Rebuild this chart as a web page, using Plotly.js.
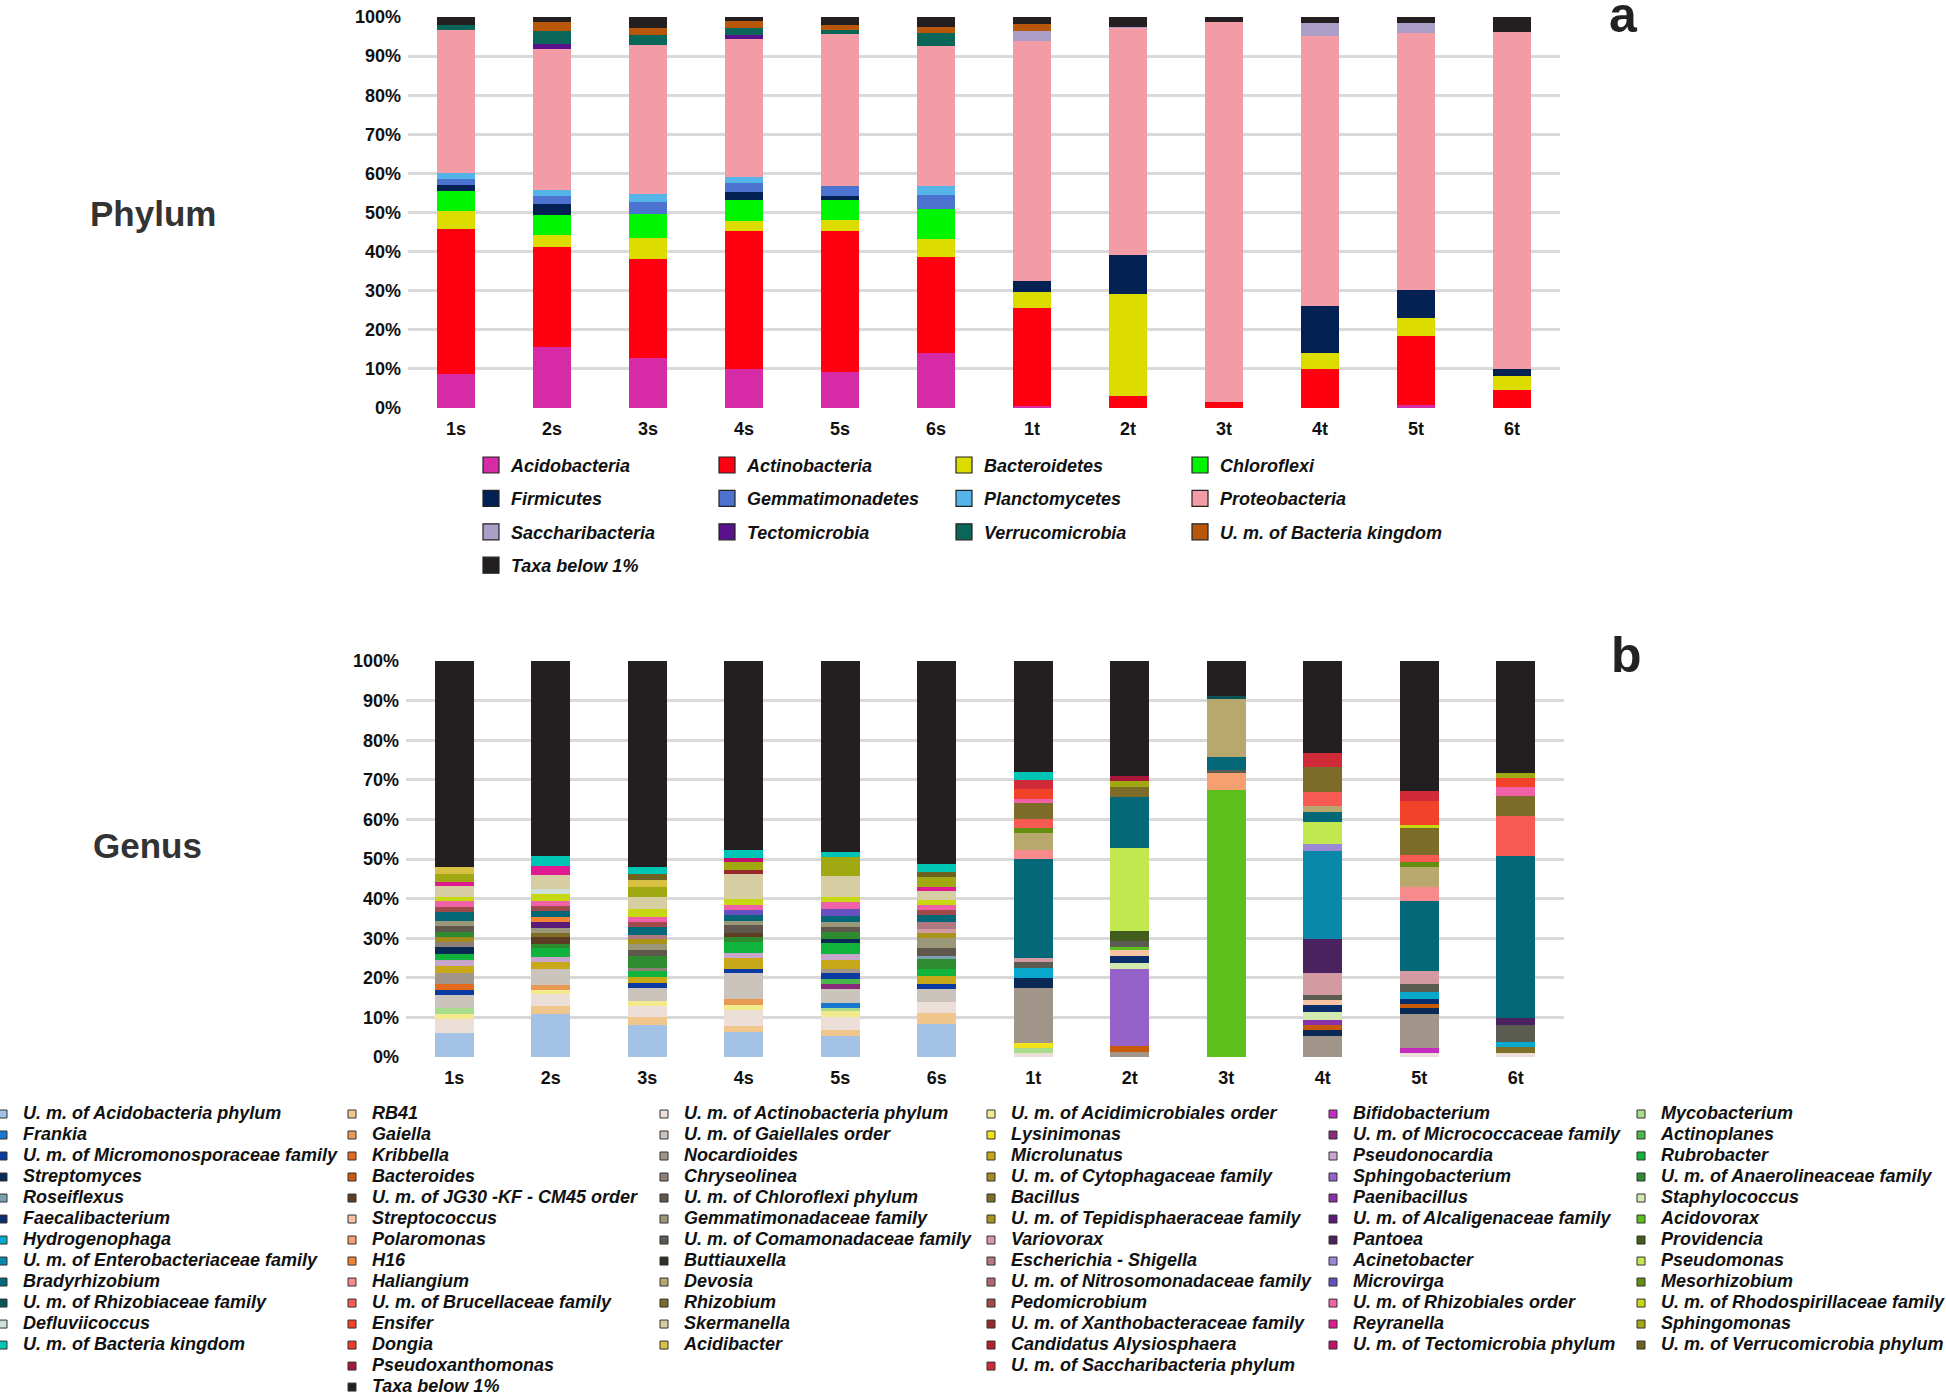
<!DOCTYPE html>
<html>
<head>
<meta charset="utf-8">
<script src="https://cdn.plot.ly/plotly-3.0.1.min.js"></script>
<style>
html,body{margin:0;padding:0;overflow:hidden;background:#fff;width:1946px;height:1397px;}
#wrap{position:relative;width:1946px;height:1397px;overflow:hidden;background:#fff;}
#chart{position:absolute;left:-24px;top:0;width:2030px;height:1420px;}
</style>
</head>
<body>
<div id="wrap"><div id="chart"></div></div>
<script>
// ---------------- DATA ----------------
const samples = ['1s','2s','3s','4s','5s','6s','1t','2t','3t','4t','5t','6t'];

// Panel a: phylum (% relative abundance), stacked bottom -> top
const phylumNames = ['Acidobacteria','Actinobacteria','Bacteroidetes','Chloroflexi','Firmicutes','Gemmatimonadetes','Planctomycetes','Proteobacteria','Saccharibacteria','Tectomicrobia','Verrucomicrobia','U. m. of Bacteria kingdom','Taxa below 1%'];
const phylumColors = ['#d62aa6','#fe0010','#dcdc00','#00f500','#032152','#4d73d1','#55b4e8','#f49ca6','#ab9fc8','#5b118c','#0b665a','#b8560a','#231f20'];
const pAcidobacteria    = [8.6, 15.7, 12.7, 10.0, 9.1, 14.1, 0.5, 0, 0, 0, 0.7, 0];
const pActinobacteria   = [37.3, 25.6, 25.4, 35.2, 36.1, 24.6, 25.2, 3.1, 1.5, 10.1, 17.6, 4.6];
const pBacteroidetes    = [4.5, 3.0, 5.3, 2.5, 2.9, 4.5, 3.9, 26.1, 0, 3.9, 4.8, 3.6];
const pChloroflexi      = [5.0, 5.0, 6.2, 5.5, 5.1, 7.7, 0, 0, 0, 0, 0, 0];
const pFirmicutes       = [1.6, 2.8, 0, 2.0, 1.0, 0, 2.8, 10.0, 0, 12.2, 7.1, 1.9];
const pGemmatimonadetes = [1.5, 2.1, 3.0, 2.3, 2.5, 3.5, 0, 0, 0, 0, 0, 0];
const pPlanctomycetes   = [1.5, 1.5, 2.2, 1.5, 0, 2.3, 0, 0, 0, 0, 0, 0];
const pProteobacteria   = [36.7, 36.2, 38.1, 35.4, 39.0, 35.9, 61.4, 58.0, 97.2, 68.9, 65.8, 86.0];
const pSaccharibacteria = [0, 0, 0, 0, 0, 0, 2.5, 0.3, 0, 3.4, 2.5, 0];
const pTectomicrobia    = [0, 1.2, 0, 1.0, 0, 0, 0, 0, 0, 0, 0, 0];
const pVerrucomicrobia  = [1.2, 3.2, 2.6, 1.8, 1.0, 3.4, 0, 0, 0, 0, 0, 0];
const pBacteriaKingdom  = [0, 2.5, 1.7, 1.9, 1.2, 1.5, 2.0, 0, 0, 0, 0, 0];
const pTaxaBelow        = [2.1, 1.2, 2.8, 0.9, 2.1, 2.5, 1.7, 2.5, 1.3, 1.5, 1.5, 3.9];
const phylumSeries = [pAcidobacteria,pActinobacteria,pBacteroidetes,pChloroflexi,pFirmicutes,pGemmatimonadetes,pPlanctomycetes,pProteobacteria,pSaccharibacteria,pTectomicrobia,pVerrucomicrobia,pBacteriaKingdom,pTaxaBelow];

// Panel b: genus (% relative abundance), legend order (row-major)
const genusNames = [
 'U. m. of Acidobacteria phylum','RB41','U. m. of Actinobacteria phylum','U. m. of Acidimicrobiales order','Bifidobacterium','Mycobacterium',
 'Frankia','Gaiella','U. m. of Gaiellales order','Lysinimonas','U. m. of Micrococcaceae family','Actinoplanes',
 'U. m. of Micromonosporaceae family','Kribbella','Nocardioides','Microlunatus','Pseudonocardia','Rubrobacter',
 'Streptomyces','Bacteroides','Chryseolinea','U. m. of Cytophagaceae family','Sphingobacterium','U. m. of Anaerolineaceae family',
 'Roseiflexus','U. m. of JG30 -KF - CM45 order','U. m. of Chloroflexi phylum','Bacillus','Paenibacillus','Staphylococcus',
 'Faecalibacterium','Streptococcus','Gemmatimonadaceae family','U. m. of Tepidisphaeraceae family','U. m. of Alcaligenaceae family','Acidovorax',
 'Hydrogenophaga','Polaromonas','U. m. of Comamonadaceae family','Variovorax','Pantoea','Providencia',
 'U. m. of Enterobacteriaceae family','H16','Buttiauxella','Escherichia - Shigella','Acinetobacter','Pseudomonas',
 'Bradyrhizobium','Haliangium','Devosia','U. m. of Nitrosomonadaceae family','Microvirga','Mesorhizobium',
 'U. m. of Rhizobiaceae family','U. m. of Brucellaceae family','Rhizobium','Pedomicrobium','U. m. of Rhizobiales order','U. m. of Rhodospirillaceae family',
 'Defluviicoccus','Ensifer','Skermanella','U. m. of Xanthobacteraceae family','Reyranella','Sphingomonas',
 'U. m. of Bacteria kingdom','Dongia','Acidibacter','Candidatus Alysiosphaera','U. m. of Tectomicrobia phylum','U. m. of Verrucomicrobia phylum',
 'Pseudoxanthomonas','U. m. of Saccharibacteria phylum','Taxa below 1%'
];
const genusColors = [
 '#a3c2e6','#f0c68c','#ebdfd8','#f3ea8e','#c42cc0','#a8dc8a',
 '#1878d0','#e89a52','#cbc4bc','#f2e21c','#8a2a7a','#4ab84a',
 '#0a3aa2','#e46a1e','#a19589','#c8a818','#c8a6cc','#10b33c',
 '#0a2a56','#c85a0a','#8c8078','#a28a1e','#9462c8','#2e8b30',
 '#7aa2ae','#5c3c22','#5f574b','#7f6e26','#8a30a8','#d2eab0',
 '#0a2e6c','#f8c4a4','#9a9878','#a89418','#5a1c78','#5cbf1c',
 '#08a8cc','#f6a070','#5a5c52','#d49aa2','#4a2260','#425c1e',
 '#0a88aa','#f08232','#2e2e28','#b07880','#9a88d4','#c2e850',
 '#046878','#f78a8c','#b8a86e','#b06870','#6850c0','#648e12',
 '#0a5458','#f75a52','#7d6b2a','#a04a4a','#f062a8','#c6d812',
 '#cfe0d8','#f2422a','#d6cea2','#962a2a','#e01a90','#a0a912',
 '#00c4b4','#f03a2a','#d8c044','#b42030','#c0106a','#6e6222',
 '#a8183a','#d02a38','#231f20'
];
const gAcidobacteriaPhylum = [6.0,10.9,8.1,6.2,5.4,8.3,0,0,0,0,0,0];
const gRB41                = [0,2.0,2.1,1.6,1.3,2.7,0,0,0,0,0,0];
const gActinobacteriaPhyl  = [3.7,3.0,2.8,4.0,3.5,2.8,0.9,0,0,0,0.9,0.9];
const gAcidimicrobiales    = [1.2,1.0,1.2,1.3,1.3,0,0,0,0,0,0,0];
const gBifidobacterium     = [0,0,0,0,0,0,0,0,0,0,1.3,0];
const gMycobacterium       = [1.4,0,0,0,0.8,0,1.4,0,0,0,0,0];
const gFrankia             = [0,0,0,0,1.4,0,0,0,0,0,0,0];
const gGaiella             = [0,1.3,0,1.5,0,0,0,0,0,0,0,0];
const gGaiellales          = [3.3,4.0,3.2,6.6,3.4,3.4,0,0,0,0,0,0];
const gLysinimonas         = [0,0,0,0,0,0,1.3,0,0,0,0,0];
const gMicrococcaceae      = [0,0,0,0,1.4,0,0,0,0,0,0,0];
const gActinoplanes        = [0,0,0,0,1.2,0,0,0,0,0,0,0];
const gMicromonosporaceae  = [1.3,0,1.3,1.1,1.4,1.3,0,0,0,0,0,0];
const gKribbella           = [1.5,0,0,0,0,0,0,0,0,0,0,0];
const gNocardioides        = [2.7,0,0,0,1.1,0,13.8,1.3,0,5.3,8.7,0];
const gMicrolunatus        = [2.0,1.7,1.5,2.7,2.3,1.9,0,0,0,0,0,0];
const gPseudonocardia      = [1.5,1.3,0,1.3,1.4,0,0,0,0,0,0,0];
const gRubrobacter         = [1.4,2.4,1.4,2.7,2.8,1.7,0,0,0,0,0,0];
const gStreptomyces        = [1.8,0,0,0,1.1,0,2.5,0,0,1.4,1.6,0];
const gBacteroides         = [0,0,0,0,0,0,0,1.5,0,1.3,0.9,0];
const gChryseolinea        = [1.2,0,1.0,0,0,0,0,0,0,0,0,0];
const gCytophagaceae       = [1.2,0,0,0,0,0,0,0,0,0,0,0];
const gSphingobacterium    = [0,0,0,0,0,0,0,19.5,0,0,0,0];
const gAnaerolineaceae     = [1.4,1.0,2.9,1.2,1.8,2.7,0,0,0,0,0,0];
const gRoseiflexus         = [0,0,0,0,0,0.8,0,0,0,0,0,0];
const gJG30                = [0,1.7,0,1.2,0,0,0,0,0,0,0,0];
const gChloroflexiPhylum   = [1.5,0,1.5,1.9,1.3,2.0,0,0,0,0,0,0];
const gBacillus            = [0,1.0,0,0,0,0,0,0,0,0,0,1.7];
const gPaenibacillus       = [0,0,0,0,0,0,0,0,0,1.4,0,0];
const gStaphylococcus      = [0,0,0,0,0,0,0,1.5,0,1.9,0,0];
const gFaecalibacterium    = [0,0,0,0,0,0,0,1.7,0,1.9,1.2,0];
const gStreptococcus       = [0,0,0,0,0,0,0,1.4,0,1.1,0,0];
const gGemmatimonadaceae   = [1.2,1.3,1.5,1.1,1.2,2.4,0,0,0,0,0,0];
const gTepidisphaeraceae   = [0,0,1.2,0,0,1.3,0,0,0,0,0,0];
const gAlcaligenaceae      = [0,1.6,0,0,0,0,0,0,0,0,0,0];
const gAcidovorax          = [0,0,0,0,0,0,0,1.0,67.3,0,0,0];
const gHydrogenophaga      = [0,0,0,0,0,0,2.7,0,0,0,1.9,1.3];
const gPolaromonas         = [0,0,0,0,0,0,0,0,4.4,0,0,0];
const gComamonadaceae      = [0,0,0,0,0,0,1.3,1.3,0.7,1.3,1.9,4.2];
const gVariovorax          = [0,0,0,0,0,1.1,1.2,0,0,5.7,3.3,0];
const gPantoea             = [0,0,0,0,0,0,0,0,0,8.4,0,1.7];
const gProvidencia         = [0,0,0,0,0,0,0,2.5,0,0,0,0];
const gEnterobacteriaceae  = [0,0,0,0,0,0,0,0,0,22.4,0,0];
const gH16                 = [0,1.2,0,0,0,0,0,0,0,0,0,0];
const gButtiauxella        = [0,0,0,0,0,0,0,0,0,0,0,0];
const gEscherichia         = [0,0,1.1,0,0,1.7,0,0,0,0,0,0];
const gAcinetobacter       = [0,0,0,0,0,0,0,0,0,1.8,0,0];
const gPseudomonas         = [0,0,0,0,0,0,0,21.1,0,5.4,0,0];
const gBradyrhizobium      = [2.3,1.5,2.1,1.5,1.5,1.7,25.0,12.9,3.4,2.6,17.8,41.0];
const gHaliangium          = [0,0,0,0,0,0,2.2,0,0,0,3.5,0];
const gDevosia             = [0,0,0,0,0,0,4.2,0,14.6,1.6,4.9,0];
const gNitrosomonadaceae   = [0,0,0,0,0,0,0,0,0,0,0,0];
const gMicrovirga          = [0,0,0,1.3,1.9,0,0,0,0,0,0,0];
const gMesorhizobium       = [0,0,0,0,0,0,1.3,0,0,0,1.3,0];
const gRhizobiaceae        = [0,0,0,0,0,0,0,0,0.7,0,0,0];
const gBrucellaceae        = [0,0,0,0,0,0,2.2,0,0,3.5,1.9,10.1];
const gRhizobium           = [0,0,0,0,0,0,4.1,2.6,0,6.3,6.7,5.1];
const gPedomicrobium       = [1.2,1.3,1.3,0,0,1.2,0,0,0,0,0,0];
const gRhizobiales         = [1.6,1.3,1.1,1.3,1.7,1.3,1.1,0,0,0,0,2.1];
const gRhodospirillaceae   = [1.1,1.7,2.0,1.5,1.1,1.3,0,0,0,0,0.8,0];
const gDefluviicoccus      = [0,1.3,0,0,0,0,0,0,0,0,0,0];
const gEnsifer             = [0,0,0,0,0,0,2.5,0,0,0,6.1,2.3];
const gSkermanella         = [2.8,3.4,3.2,6.1,5.3,2.2,0,0,0,0,0,0];
const gXanthobacteraceae   = [0,0,0,1.0,0,0,0,0,0,0,0,0];
const gReyranella          = [0.9,2.3,0,0,0,1.2,0,0,0,0,0,0];
const gSphingomonas        = [2.0,0,2.5,2.1,4.8,2.5,0,1.3,0,0,0,1.4];
const gBacteriaKingdom     = [0,2.5,1.7,2.1,1.3,1.9,1.9,0,0,0,0,0];
const gDongia              = [0,0,0,0,0,0,0,0,0,0,0,0];
const gAcidibacter         = [1.9,0,1.7,0,0,0,0,0,0,0,0,0];
const gCandidatus          = [0,0,0,0,0,0,0,0,0,0,0,0];
const gTectomicrobia       = [0,0,0,1.1,0,0,0,0,0,0,0,0];
const gVerrucomicrobia     = [0,0,1.5,0,0,1.3,0,0,0,0,0,0];
const gPseudoxanthomonas   = [0,0,0,0,0,0,0,1.4,0,0,0,0];
const gSaccharibacteria    = [0,0,0,0,0,0,2.3,0,0,3.5,2.4,0];
const gTaxaBelow           = [51.9,49.3,52.1,47.6,48.3,51.3,28.1,29.0,8.9,23.2,32.9,28.2];
const genusSeries = [
 gAcidobacteriaPhylum,gRB41,gActinobacteriaPhyl,gAcidimicrobiales,gBifidobacterium,gMycobacterium,
 gFrankia,gGaiella,gGaiellales,gLysinimonas,gMicrococcaceae,gActinoplanes,
 gMicromonosporaceae,gKribbella,gNocardioides,gMicrolunatus,gPseudonocardia,gRubrobacter,
 gStreptomyces,gBacteroides,gChryseolinea,gCytophagaceae,gSphingobacterium,gAnaerolineaceae,
 gRoseiflexus,gJG30,gChloroflexiPhylum,gBacillus,gPaenibacillus,gStaphylococcus,
 gFaecalibacterium,gStreptococcus,gGemmatimonadaceae,gTepidisphaeraceae,gAlcaligenaceae,gAcidovorax,
 gHydrogenophaga,gPolaromonas,gComamonadaceae,gVariovorax,gPantoea,gProvidencia,
 gEnterobacteriaceae,gH16,gButtiauxella,gEscherichia,gAcinetobacter,gPseudomonas,
 gBradyrhizobium,gHaliangium,gDevosia,gNitrosomonadaceae,gMicrovirga,gMesorhizobium,
 gRhizobiaceae,gBrucellaceae,gRhizobium,gPedomicrobium,gRhizobiales,gRhodospirillaceae,
 gDefluviicoccus,gEnsifer,gSkermanella,gXanthobacteraceae,gReyranella,gSphingomonas,
 gBacteriaKingdom,gDongia,gAcidibacter,gCandidatus,gTectomicrobia,gVerrucomicrobia,
 gPseudoxanthomonas,gSaccharibacteria,gTaxaBelow
];

// ---------------- LAYOUT HELPERS ----------------
const W = 2030, H = 1420, OX = 24;           // layout size, left offset of the drawing
const fx = px => (px + OX) / W;              // screen px -> container fraction
const fy = py => 1 - py / H;
const FONT = 'Liberation Sans, Arial, Helvetica, sans-serif';

// stacking order of genus bars: "U. m. of Bacteria kingdom" sits just under "Taxa below 1%"
const genusStack = [];
for (let i = 0; i < genusNames.length; i++) if (i !== 66 && i !== 74) genusStack.push(i);
genusStack.push(66, 74);
// legend column of each genus entry (legend is read row by row)
const genusLegendCol = genusNames.map((_, i) => i < 72 ? i % 6 : [1, 3, 1][i - 72]);

const traces = [];
phylumSeries.forEach((vals, i) => {
  traces.push({type:'bar', x: samples, y: vals, name: phylumNames[i], xaxis:'x', yaxis:'y',
    marker:{color: phylumColors[i], line:{width:0}}, showlegend:false, hoverinfo:'name+y'});
});
genusStack.forEach(i => {
  traces.push({type:'bar', x: samples, y: genusSeries[i], name: genusNames[i], xaxis:'x2', yaxis:'y2',
    marker:{color: genusColors[i], line:{width:0}}, showlegend:false, hoverinfo:'name+y'});
});
// legend entries
phylumNames.forEach((n, i) => {
  traces.push({type:'scatter', mode:'markers', x:[null], y:[null], xaxis:'x', yaxis:'y', name:n,
    legend: i % 4 === 0 ? 'legend' : 'legend' + (i % 4 + 1), legendgroup:'p' + i,
    marker:{symbol:'square', size:16, color: phylumColors[i], line:{color:'#222', width:1.2}},
    showlegend:true, hoverinfo:'skip'});
});
genusNames.forEach((n, i) => {
  traces.push({type:'scatter', mode:'markers', x:[null], y:[null], xaxis:'x2', yaxis:'y2',
    name:'<span style="font-size:18px">' + n + '</span>',
    legend:'legend' + (5 + genusLegendCol[i]),
    marker:{symbol:'square', size:8, color: genusColors[i], line:{color:'#333', width:1}},
    showlegend:true, hoverinfo:'skip'});
});

const tickFont = {family: FONT, size: 18, color:'#111', weight:'bold'};
const yAx = (dom, anchor) => ({domain: dom, anchor: anchor, range:[0,100], dtick:10, ticksuffix:'%',
  showgrid:true, gridcolor:'#d9d9d9', gridwidth:2.5, zeroline:false, showline:false, ticks:'',
  tickfont: tickFont, ticklabelstandoff: 6, fixedrange:true});
const xAx = (dom, anchor) => ({domain: dom, anchor: anchor, type:'category', categoryarray: samples,
  categoryorder:'array', showgrid:false, zeroline:false, showline:false, ticks:'',
  tickfont: tickFont, ticklabelstandoff: 8, fixedrange:true});

const layout = {
  width: W, height: H, margin:{l:0, r:0, t:0, b:0, autoexpand:false},
  paper_bgcolor:'#ffffff', plot_bgcolor:'rgba(0,0,0,0)',
  barmode:'stack', bargap:0.595,
  font:{family: FONT, color:'#111'},
  xaxis:  xAx([fx(408), fx(1560)], 'y'),
  yaxis:  yAx([fy(408), fy(17)], 'x'),
  xaxis2: xAx([fx(406), fx(1564)], 'y2'),
  yaxis2: yAx([fy(1057), fy(661)], 'x2'),
  annotations: [
    {text:'Phylum', x: fx(153), y: fy(213), xref:'paper', yref:'paper', showarrow:false,
     xanchor:'center', yanchor:'middle', font:{family: FONT, size:35, color:'#333', weight:'bold'}},
    {text:'Genus', x: fx(147), y: fy(845), xref:'paper', yref:'paper', showarrow:false,
     xanchor:'center', yanchor:'middle', font:{family: FONT, size:35, color:'#333', weight:'bold'}},
    {text:'a', x: fx(1623), y: fy(15), xref:'paper', yref:'paper', showarrow:false,
     xanchor:'center', yanchor:'middle', font:{family: FONT, size:50, color:'#222', weight:'bold'}},
    {text:'b', x: fx(1626), y: fy(655), xref:'paper', yref:'paper', showarrow:false,
     xanchor:'center', yanchor:'middle', font:{family: FONT, size:50, color:'#222', weight:'bold'}}
  ]
};

const phylumLegendX = [471, 707, 944, 1180];
phylumLegendX.forEach((px, c) => {
  const key = c === 0 ? 'legend' : 'legend' + (c + 1);
  layout[key] = {xref:'container', yref:'container', x: fx(px), y: fy(446.8), xanchor:'left', yanchor:'top',
    bgcolor:'rgba(0,0,0,0)', borderwidth:0, traceorder:'grouped', tracegroupgap:7,
    font:{family: FONT, size:18, color:'#111', weight:'bold', style:'italic'}, itemclick:false, itemdoubleclick:false};
});
const genusLegendX = [-17, 332, 644, 971, 1313, 1621];
genusLegendX.forEach((px, c) => {
  layout['legend' + (5 + c)] = {xref:'container', yref:'container', x: fx(px), y: fy(1098.5), xanchor:'left', yanchor:'top',
    bgcolor:'rgba(0,0,0,0)', borderwidth:0, traceorder:'normal',
    font:{family: FONT, size:13.85, color:'#111', weight:'bold', style:'italic'}, itemclick:false, itemdoubleclick:false};
});

Plotly.newPlot('chart', traces, layout, {displayModeBar:false, responsive:false});
</script>
</body>
</html>
